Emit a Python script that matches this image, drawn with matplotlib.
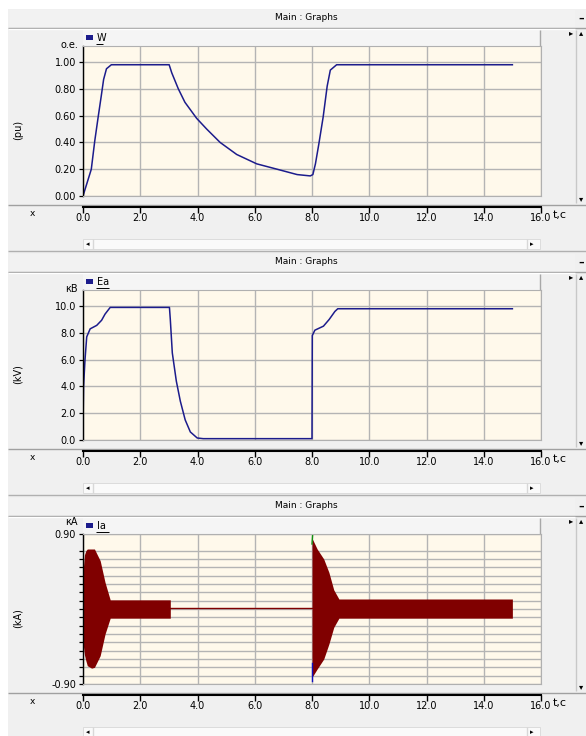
import numpy as np
import matplotlib
matplotlib.use('Agg')
import matplotlib.pyplot as plt
from matplotlib.patches import Rectangle

# ---- data ----
W_t = [0, 0.29, 0.41, 0.53, 0.64, 0.72, 0.82, 0.99, 3.01, 3.10, 3.33, 3.56, 3.97, 4.32, 4.79,
       5.37, 6.07, 6.78, 7.48, 7.94, 8.03, 8.12, 8.24, 8.39, 8.53, 8.64, 8.86, 15.0]
W_v = [0, 0.20, 0.41, 0.59, 0.75, 0.87, 0.95, 0.98, 0.98, 0.92, 0.80, 0.70, 0.58, 0.50, 0.40,
       0.31, 0.24, 0.20, 0.16, 0.15, 0.16, 0.24, 0.39, 0.59, 0.82, 0.94, 0.98, 0.98]

Ea_t = [0, 0.02, 0.07, 0.13, 0.25, 0.48, 0.65, 0.77, 0.95, 3.02, 3.05, 3.12, 3.26, 3.40, 3.57,
        3.75, 3.99, 4.2, 8.0, 8.01, 8.1, 8.4, 8.6, 8.8, 8.9, 15.0]
Ea_v = [1.0, 4.0, 6.0, 7.7, 8.3, 8.56, 8.94, 9.4, 9.9, 9.9, 9.0, 6.5, 4.4, 2.9, 1.5,
        0.6, 0.15, 0.1, 0.1, 7.8, 8.2, 8.5, 9.0, 9.6, 9.8, 9.8]

# Ia envelope (50 Hz oscillation renders as a solid band)
Ia_t  = [0.0, 0.05, 0.1, 0.15, 0.3, 0.4, 0.6, 0.77, 0.95, 3.05, 3.05, 8.0, 8.0, 8.18, 8.41, 8.59, 8.76, 8.94, 15.0]
Ia_hi = [0.44, 0.65, 0.70, 0.72, 0.72, 0.72, 0.58, 0.32, 0.11, 0.11, 0.0, 0.0, 0.85, 0.72, 0.60, 0.44, 0.23, 0.12, 0.12]
Ia_lo = [-0.40, -0.55, -0.62, -0.68, -0.71, -0.70, -0.56, -0.30, -0.11, -0.11, 0.0, 0.0, -0.82, -0.72, -0.60, -0.42, -0.22, -0.11, -0.11]
Ia_zero_t = [3.05, 8.0]
Ia_zero_v = [0.01, 0.01]

XT = [0, 2, 4, 6, 8, 10, 12, 14, 16]
XT_LAB = ['0.0', '2.0', '4.0', '6.0', '8.0', '10.0', '12.0', '14.0', '16.0']

W, H = 586, 736
BG = '#f0f0f0'; CREAM = '#fff9eb'; GRID = '#b4b4b4'; NAVY = '#1c1c8c'; DRED = '#800000'
FS = 7

fig = plt.figure(figsize=(W / 100, H / 100), dpi=100, facecolor=BG)
bg = fig.add_axes([0, 0, 1, 1]); bg.set_xlim(0, W); bg.set_ylim(H, 0); bg.axis('off')

def ax_px(x0, y0, x1, y1):
    return fig.add_axes([x0 / W, 1 - y1 / H, (x1 - x0) / W, (y1 - y0) / H])

def txt(x, y, s, **kw):
    kw.setdefault('fontsize', FS); kw.setdefault('va', 'center')
    fig.text(x / W, 1 - y / H, s, **kw)

def hline(y, x0, x1, c='#a0a0a0', lw=1.0):
    bg.plot([x0, x1], [y, y], c=c, lw=lw, solid_capstyle='butt')

def vline(x, y0, y1, c='#a0a0a0', lw=1.0):
    bg.plot([x, x], [y0, y1], c=c, lw=lw, solid_capstyle='butt')

# white outer margins
bg.add_patch(Rectangle((0, 0), W, 9, fc='white', ec='none'))
bg.add_patch(Rectangle((0, 0), 8, H, fc='white', ec='none'))

panels = [
    dict(o=0, name='W', ulab='о.е.', ylab='(pu)', ymax=1.12, ymin=0.0),
    dict(o=244, name='Ea', ulab='кВ', ylab='(kV)', ymax=11.2, ymin=0.0),
    dict(o=488, name='Ia', ulab='кА', ylab='(kA)', ymax=0.9, ymin=-0.9),
]

for p in panels:
    o = p['o']
    # title bar
    bg.add_patch(Rectangle((10, 10 + o), 565, 17, fc='#f2f2f2', ec='none'))
    hline(27.5 + o, 8, W, c='#a0a0a0')
    hline(29 + o, 8, 575, c='#ffffff')
    txt(306, 18 + o, 'Main : Graphs', ha='center', fontsize=6.5)
    txt(581, 19 + o, '–', ha='center', fontsize=8, weight='bold')
    # legend bar
    bg.add_patch(Rectangle((83, 30 + o), 457, 16, fc='#f5f5f5', ec='none'))
    vline(540, 30 + o, 46 + o, c='#a8a8a8')
    bg.add_patch(Rectangle((86, 35 + o), 7, 5, fc=NAVY, ec='none'))
    txt(97, 38 + o, p['name'], ha='left', fontsize=7)
    hline(43.5 + o, 96, 97 + 6 * len(p['name']), c='k', lw=0.7)
    # right scroll column
    vline(576, 30 + o, 203 + o, c='#c8c8c8')
    txt(571, 33 + o, '▸', ha='center', fontsize=6)
    txt(581, 33 + o, '▴', ha='center', fontsize=6)
    txt(581, 199 + o, '▾', ha='center', fontsize=6)
    # separators
    hline(205 + o, 8, W, c='#a0a0a0')
    hline(251 + o, 8, W, c='#b0b0b0')
    # horizontal scroll bar
    bg.add_patch(Rectangle((83, 239 + o), 457, 10, fc='#fafafa', ec='#d8d8d8', lw=0.6))
    txt(88, 244 + o, '◂', ha='center', fontsize=5)
    txt(532, 244 + o, '▸', ha='center', fontsize=5)
    vline(93, 239 + o, 249 + o, c='#d8d8d8'); vline(527, 239 + o, 249 + o, c='#d8d8d8')
    # labels
    txt(32, 213 + o, 'x', ha='center', fontsize=6.5)
    txt(553, 215 + o, 't,c', ha='left', fontsize=8)
    txt(78, 45 + o if o != 488 else 522, p['ulab'], ha='right', fontsize=7)
    txt(18, 130 + o, p['ylab'], ha='center', rotation=90, fontsize=7)

    # plot area
    ax = ax_px(83, 46 + o, 541, 196 + o)
    ax.set_facecolor(CREAM)
    ax.set_xlim(0, 16); ax.set_ylim(p['ymin'], p['ymax'])
    for s in ['top', 'right', 'bottom']:
        ax.spines[s].set_color('#b0b0b0'); ax.spines[s].set_linewidth(0.8)
    ax.spines['left'].set_color('k'); ax.spines['left'].set_linewidth(1.0)
    ax.set_xticks(XT); ax.tick_params(axis='x', length=0, labelbottom=False)
    ax.tick_params(axis='y', length=3, width=0.9, labelsize=FS, pad=2)
    ax.grid(True, color=GRID, lw=1.0)
    ax.set_axisbelow(True)
    p['ax'] = ax

    # x axis strip
    xa = ax_px(83, 205 + o, 541, 207 + o)
    xa.patch.set_visible(False)
    for s in ['top', 'right', 'left']:
        xa.spines[s].set_visible(False)
    xa.spines['bottom'].set_linewidth(1.5)
    xa.set_xlim(0, 16); xa.set_yticks([])
    xa.set_xticks(XT); xa.set_xticklabels(XT_LAB)
    xa.tick_params(axis='x', length=4, width=1, labelsize=FS, pad=0.5)

a1, a2, a3 = [p['ax'] for p in panels]
a1.set_yticks([0, 0.2, 0.4, 0.6, 0.8, 1.0])
a1.set_yticklabels(['0.00', '0.20', '0.40', '0.60', '0.80', '1.00'])
a1.plot(W_t, W_v, c=NAVY, lw=1.1)

a2.set_yticks([0, 2, 4, 6, 8, 10])
a2.set_yticklabels(['0.0', '2.0', '4.0', '6.0', '8.0', '10.0'])
a2.plot(Ea_t, Ea_v, c=NAVY, lw=1.1)

ia_grid = [-0.8, -0.7, -0.6, -0.5, -0.4, -0.3, -0.2, -0.1, 0.0, 0.1, 0.2, 0.3, 0.4, 0.5, 0.6, 0.7]
a3.set_yticks([-0.9, 0.9]); a3.set_yticklabels(['-0.90', '0.90'])
a3.set_yticks(ia_grid, minor=True)
a3.tick_params(axis='y', which='minor', length=3, width=0.9)
a3.grid(True, which='minor', axis='y', color=GRID, lw=1.0)
a3.fill_between(Ia_t, Ia_lo, Ia_hi, color=DRED, lw=0)
a3.plot(Ia_zero_t, Ia_zero_v, c=DRED, lw=1.0)
a3.plot([8.0, 8.0], [-0.86, -0.65], c='#1010c0', lw=1.0)
a3.plot([8.0, 8.02], [0.78, 0.88], c='#109010', lw=1.0)

fig.savefig('out.png', dpi=100, facecolor=BG)
